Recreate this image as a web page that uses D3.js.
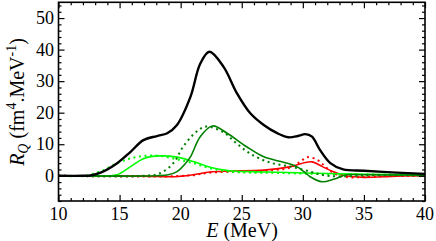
<!DOCTYPE html>
<html>
<head>
  <script src="https://d3js.org/d3.v7.min.js"></script>
  <style>
    body { margin: 0; background: #fff; }
    .curve { fill: none; }
  </style>
</head>
<body>
<div id="chartArea"></div>
<script>
  var w = 436, h = 241;
  var serif = "'Liberation Serif'";

  // energy (MeV) / strength pairs
  var totalSolid = [[10,0],[12,0],[12.6,0.1],[13.5,1.1],[14.8,4.0],[15.9,7.6],[16.95,11.3],[18.05,12.6],[18.9,13.5],[19.7,16.1],[20.8,25],[21.6,35.5],[22.35,39.3],[23.5,34.6],[24.6,26.2],[25.7,19.8],[26.8,16.1],[27.9,13.5],[28.8,12.2],[29.6,12.6],[30.2,13.2],[30.75,12.4],[31.4,8.2],[32.25,4.0],[33.3,2.0],[35,1.6],[37.7,1.0],[40,0.6]];
  var darkSolid = [[10,0],[18,0],[19,0.3],[19.7,1.3],[20.3,3.5],[20.8,6],[21.6,12.4],[22.6,15.8],[23.8,13.5],[25.4,9.2],[26.8,6.0],[28.2,4.5],[29.5,2.9],[30.1,1.3],[30.6,-0.3],[31.6,-1.9],[32.5,-1.1],[33.6,0.3],[35,0.3],[40,0.2]];
  var darkDotted = [[10,0],[17,0],[18.3,0.8],[19.4,4],[20.2,9.2],[21.3,14],[22.1,15.6],[23.5,13.8],[24.5,10.5],[25.7,7.0],[27.3,4.2],[29,2.9],[30.6,1.3],[31.7,0.2],[33,-0.2],[35,0.1],[40,0.1]];
  var lightSolid = [[10,0],[14,0],[14.8,0.3],[15.9,2.9],[17,5.5],[18.3,6.3],[19.7,5.9],[21.05,4.5],[22.4,2.7],[24.05,1.6],[25.7,1.3],[28,1.1],[31,0.8],[35,0.5],[40,0.2]];
  var lightDotted = [[10,0],[12,0],[13.4,1.3],[14.8,4],[15.9,5.5],[17,6.3],[18.3,6.3],[19.7,5.2],[21.05,4],[22.4,2.4],[24,1.3],[25.7,1.0],[28,0.9],[31,0.6],[35,0.4],[40,0.2]];
  var redSolid = [[10,0],[17,-0.1],[19.5,-0.3],[21,0.3],[22.4,1.2],[24,1.5],[26.8,1.8],[29,2.9],[30.2,4.2],[30.75,4.4],[31.6,2.9],[32.5,1.3],[33.6,-0.1],[35,-0.5],[37.7,-0.1],[40,0]];
  var redDotted = [[10,0],[19,-0.2],[21,0.2],[22.4,1.0],[25,1.3],[27.6,1.8],[29,2.6],[29.8,4.5],[30.4,5.9],[31.2,5.0],[31.7,3.4],[32.25,1.5],[33,0],[33.9,-0.5],[35,-0.4],[37,-0.1],[40,0]];

  var xMajor = [10, 15, 20, 25, 30, 35, 40];
  var yMajor = [0, 10, 20, 30, 40, 50];

  var series = [
    {data: redSolid,    color: "#ff0000", width: 1.6, dash: null},
    {data: redDotted,   color: "#ff0000", width: 2,   dash: "2,3.6"},
    {data: lightSolid,  color: "#00ff00", width: 1.6, dash: null},
    {data: lightDotted, color: "#00ff00", width: 2,   dash: "2,3.6"},
    {data: darkSolid,   color: "#008000", width: 1.6, dash: null},
    {data: darkDotted,  color: "#008000", width: 2,   dash: "2,3.6"},
    {data: totalSolid,  color: "#000000", width: 2.4, dash: null}
  ];

  (function() {
    var pL = 58.5, pR = 425, pT = 2.3, pB = 201;

    var xScale = d3.scaleLinear().domain([10, 40]).range([pL, pR]);
    var yScale = d3.scaleLinear().domain([-8, 55]).range([pB, pT]);

    var svg = d3.select("#chartArea").append("svg")
      .attr("width", w).attr("height", h);

    svg.append("clipPath").attr("id", "plotclip")
      .append("rect").attr("x", pL).attr("y", pT)
      .attr("width", pR - pL).attr("height", pB - pT);

    var line = d3.line()
      .x(function(d) { return xScale(d[0]); })
      .y(function(d) { return yScale(d[1]); })
      .curve(d3.curveCatmullRom.alpha(0.5));

    var plot = svg.append("g").attr("clip-path", "url(#plotclip)");
    series.forEach(function(s) {
      plot.append("path")
        .datum(s.data)
        .attr("class", "curve")
        .attr("d", line)
        .attr("stroke", s.color)
        .attr("stroke-width", s.width)
        .attr("stroke-dasharray", s.dash)
        .attr("stroke-linecap", s.dash ? "butt" : "round");
    });

    // inward ticks on all four sides
    var xMinor = d3.range(10, 41, 1).filter(function(v) { return v % 5 != 0; });
    var yMinor = d3.range(-8, 55, 2).filter(function(v) { return v % 10 != 0; });

    function ticks(axis, pos, vals, size) {
      var horiz = (axis === d3.axisBottom || axis === d3.axisTop);
      svg.append("g").attr("transform", horiz ? "translate(0," + pos + ")" : "translate(" + pos + ",0)")
        .call(axis(horiz ? xScale : yScale).tickValues(vals).tickSize(-size).tickFormat(""));
    }
    ticks(d3.axisBottom, pB, xMajor, 6); ticks(d3.axisBottom, pB, xMinor, 3);
    ticks(d3.axisTop, pT, xMajor, 6);    ticks(d3.axisTop, pT, xMinor, 3);
    ticks(d3.axisLeft, pL, yMajor, 6);   ticks(d3.axisLeft, pL, yMinor, 3);
    ticks(d3.axisRight, pR, yMajor, 6);  ticks(d3.axisRight, pR, yMinor, 3);

    svg.selectAll(".domain").remove();
    svg.selectAll(".tick line").attr("stroke", "#000").attr("stroke-width", 1.2);

    svg.append("rect")
      .attr("x", pL).attr("y", pT)
      .attr("width", pR - pL).attr("height", pB - pT)
      .attr("fill", "none").attr("stroke", "#000").attr("stroke-width", 1.6);

    // tick labels
    svg.selectAll(".xlab").data(xMajor).enter().append("text")
      .attr("class", "xlab")
      .attr("x", function(d) { return xScale(d); })
      .attr("y", 219.5)
      .attr("text-anchor", "middle")
      .style("font-family", serif)
      .style("font-size", "18px")
      .text(function(d) { return d; });

    svg.selectAll(".ylab").data(yMajor).enter().append("text")
      .attr("class", "ylab")
      .attr("x", 54)
      .attr("y", function(d) { return yScale(d) + 6; })
      .attr("text-anchor", "end")
      .style("font-family", serif)
      .style("font-size", "18px")
      .text(function(d) { return d; });

    // axis titles
    var xt = svg.append("text")
      .attr("x", 242).attr("y", 237)
      .attr("text-anchor", "middle")
      .style("font-family", serif)
      .style("font-size", "20px");
    xt.append("tspan").style("font-style", "italic").text("E");
    xt.append("tspan").text(" (MeV)");

    var yt = svg.append("text")
      .attr("transform", "translate(24,102) rotate(-90)")
      .attr("text-anchor", "middle")
      .style("font-family", serif)
      .style("font-size", "20px");
    yt.append("tspan").style("font-style", "italic").text("R");
    yt.append("tspan").style("font-style", "italic").style("font-size", "14px").attr("dy", 4).text("Q");
    yt.append("tspan").attr("dy", -4).text(" (fm");
    yt.append("tspan").style("font-size", "14px").attr("dy", -8).text("4");
    yt.append("tspan").attr("dy", 8).text(".MeV");
    yt.append("tspan").style("font-size", "14px").attr("dy", -8).text("-1");
    yt.append("tspan").attr("dy", 8).text(")");
  })();
</script>
</body>
</html>
